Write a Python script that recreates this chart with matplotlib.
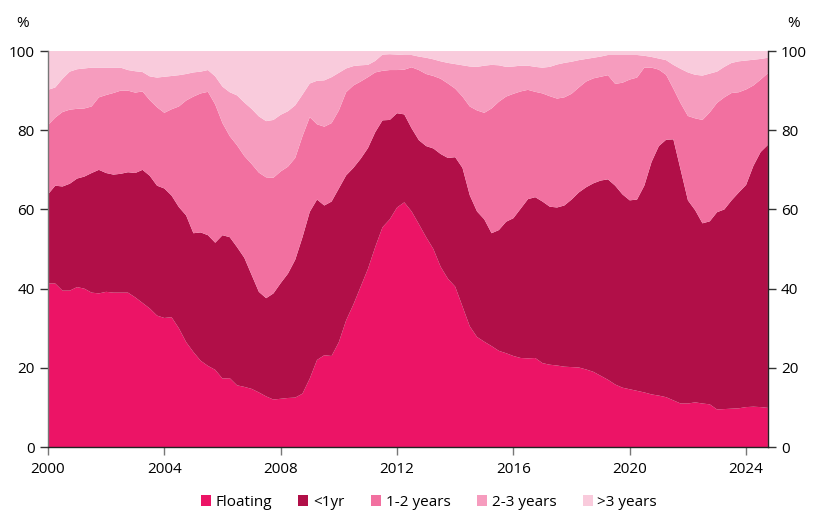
import numpy as np
import matplotlib
matplotlib.use("Agg")
import matplotlib.pyplot as plt
from matplotlib.patches import Patch

# Quarterly observations, 2000 Q1 to 2024 Q4 (share of loans, %)
years = np.arange(2000, 2024.76, 0.25)

floating = [41.3, 41.3, 39.5, 39.5, 40.4, 40.0, 39.0, 38.8, 39.2, 39.0,
            39.0, 39.0, 37.8, 36.4, 35.0, 33.2, 32.6, 32.8, 30.0, 26.5,
            24.0, 21.8, 20.5, 19.5, 17.3, 17.4, 15.6, 15.2, 14.7, 13.8,
            12.8, 12.0, 12.2, 12.4, 12.5, 13.5, 17.3, 22.0, 23.2, 23.0,
            26.5, 32.0, 36.0, 40.5, 45.0, 50.5, 55.5, 57.5, 60.5, 61.8,
            59.5, 56.3, 53.0, 50.0, 45.5, 42.5, 40.5, 35.5, 30.5, 27.8,
            26.6, 25.5, 24.3, 23.7, 23.0, 22.5, 22.4, 22.5, 21.2, 20.8,
            20.6, 20.3, 20.2, 20.1, 19.6, 19.0, 18.0, 17.0, 15.8, 15.0,
            14.6, 14.2, 13.8, 13.3, 13.0, 12.6, 11.8, 11.0, 11.0, 11.3,
            11.0, 10.8, 9.5, 9.6, 9.7, 9.8, 10.1, 10.2, 10.1, 9.9]

under_1yr = [22.5, 24.7, 26.3, 27.0, 27.4, 28.3, 30.2, 31.2, 30.0, 29.8,
             30.0, 30.4, 31.4, 33.6, 33.5, 32.8, 32.7, 30.7, 30.6, 32.0,
             30.0, 32.4, 33.0, 32.1, 36.2, 35.6, 34.9, 32.6, 28.8, 25.4,
             24.8, 26.8, 29.2, 31.4, 34.8, 39.5, 42.1, 40.5, 37.8, 39.0,
             38.8, 36.6, 34.5, 32.3, 30.5, 29.0, 27.0, 25.1, 23.8, 22.2,
             21.0, 21.2, 23.0, 25.4, 28.5, 30.5, 32.7, 35.0, 33.1, 31.7,
             30.9, 28.5, 30.5, 33.2, 34.8, 37.7, 40.2, 40.6, 40.8, 39.9,
             39.9, 40.7, 42.3, 44.2, 46.0, 47.6, 49.3, 50.6, 50.2, 48.8,
             47.7, 48.3, 52.2, 58.7, 63.0, 65.0, 65.9, 59.0, 51.3, 48.5,
             45.5, 46.2, 49.8, 50.4, 52.6, 54.5, 56.1, 60.8, 64.4, 66.4]

yrs_1_2 = [17.5, 17.2, 18.8, 18.7, 17.6, 17.2, 16.8, 18.3, 19.7, 20.6,
           21.0, 20.6, 20.3, 19.8, 19.1, 19.8, 19.1, 21.8, 25.4, 29.0,
           34.5, 35.1, 36.2, 34.9, 28.3, 25.5, 25.7, 25.7, 28.0, 30.1,
           30.5, 29.2, 28.2, 27.0, 25.7, 25.5, 23.9, 19.0, 19.9, 19.8,
           19.7, 21.0, 20.8, 19.5, 17.9, 15.1, 12.5, 12.6, 10.9, 11.3,
           15.4, 17.7, 18.2, 18.3, 19.0, 18.8, 17.3, 18.0, 22.4, 25.5,
           26.9, 31.5, 32.4, 31.6, 31.4, 29.6, 27.6, 26.6, 27.3, 27.9,
           27.5, 27.3, 26.7, 26.5, 26.7, 26.5, 26.2, 26.3, 25.7, 28.2,
           30.5, 30.8, 29.8, 23.8, 19.3, 16.4, 12.8, 16.8, 21.3, 23.2,
           26.1, 27.5, 27.6, 28.3, 27.1, 25.3, 24.1, 20.3, 18.3, 18.1]

yrs_2_3 = [8.9, 7.6, 8.4, 9.6, 10.0, 10.1, 9.8, 7.5, 6.9, 6.4,
           5.8, 5.2, 5.4, 4.9, 6.0, 7.5, 9.1, 8.4, 7.9, 6.7,
           6.1, 5.5, 5.5, 7.1, 9.2, 11.1, 12.6, 13.5, 13.9, 14.2,
           14.2, 14.6, 14.3, 14.0, 13.3, 10.5, 8.5, 11.0, 11.7, 11.6,
           9.5, 6.0, 4.9, 4.1, 3.1, 2.9, 4.1, 4.0, 3.9, 3.7,
           3.1, 3.4, 4.1, 4.2, 4.4, 5.2, 6.2, 7.9, 10.1, 11.0,
           11.9, 11.0, 9.2, 7.5, 6.9, 6.5, 6.1, 6.3, 6.5, 7.4,
           8.6, 8.7, 8.1, 6.9, 5.7, 5.2, 5.1, 5.1, 7.3, 7.0,
           6.2, 5.7, 3.0, 2.7, 2.8, 3.7, 6.0, 8.7, 11.0, 11.0,
           11.2, 9.8, 7.9, 7.7, 7.6, 7.8, 7.3, 6.5, 5.2, 3.9]

over_3yrs = [9.8, 9.2, 7.0, 5.2, 4.6, 4.4, 4.2, 4.2, 4.2, 4.2,
             4.2, 4.8, 5.1, 5.3, 6.4, 6.7, 6.5, 6.3, 6.1, 5.8,
             5.4, 5.2, 4.8, 6.4, 9.0, 10.4, 11.2, 13.0, 14.6, 16.5,
             17.7, 17.4, 16.1, 15.2, 13.7, 11.0, 8.2, 7.5, 7.4, 6.6,
             5.5, 4.4, 3.8, 3.6, 3.5, 2.5, 0.9, 0.8, 0.9, 1.0,
             1.0, 1.4, 1.7, 2.1, 2.6, 3.0, 3.3, 3.6, 3.9, 4.0,
             3.7, 3.5, 3.6, 4.0, 3.9, 3.7, 3.7, 4.0, 4.2, 4.0,
             3.4, 3.0, 2.7, 2.3, 2.0, 1.7, 1.4, 1.0, 1.0, 1.0,
             1.0, 1.0, 1.2, 1.5, 1.9, 2.3, 3.5, 4.5, 5.4, 6.0,
             6.2, 5.7, 5.2, 4.0, 3.0, 2.6, 2.4, 2.2, 2.0, 1.7]

labels = ["Floating", "<1yr", "1-2 years", "2-3 years", ">3 years"]
colors = ["#ec1466", "#b10f48", "#f270a0", "#f69cbe", "#f9cbdc"]

plt.rcParams['font.family'] = ['Open Sans', 'DejaVu Sans']

fig = plt.figure(figsize=(8.2, 5.26), dpi=100)
ax = fig.add_axes([0.0585, 0.150, 0.878, 0.753])

ax.stackplot(years, floating, under_1yr, yrs_1_2, yrs_2_3, over_3yrs,
             colors=colors, linewidth=0)

ax.set_xlim(2000, 2024.75)
ax.set_ylim(0, 100)
ax.set_xticks(range(2000, 2025, 4))
ax.set_yticks(range(0, 101, 20))

ax.spines['top'].set_visible(False)
ax.spines['right'].set_visible(True)
for s in ['left', 'right', 'bottom']:
    ax.spines[s].set_linewidth(1.0)
    ax.spines[s].set_color('#222222')
ax.spines['left'].set_color('#777777')

ax.tick_params(axis='y', which='both', left=True, right=True,
               labelleft=True, labelright=True, direction='out',
               length=6, width=1, labelsize=11, color='#333333')
ax.tick_params(axis='x', direction='out', length=6, width=1,
               labelsize=11, pad=5, color='#777777')

fig.text(0.027, 0.955, "%", fontsize=11, ha='center', va='center')
fig.text(0.968, 0.955, "%", fontsize=11, ha='center', va='center')

handles = [Patch(facecolor=c, edgecolor='none') for c in colors]
fig.legend(handles, labels, loc='center', bbox_to_anchor=(0.523, 0.045),
           ncol=5, frameon=False, fontsize=11, handlelength=0.65,
           handleheight=0.65, handletextpad=0.3, columnspacing=1.75)

fig.savefig("out.png", dpi=100)
